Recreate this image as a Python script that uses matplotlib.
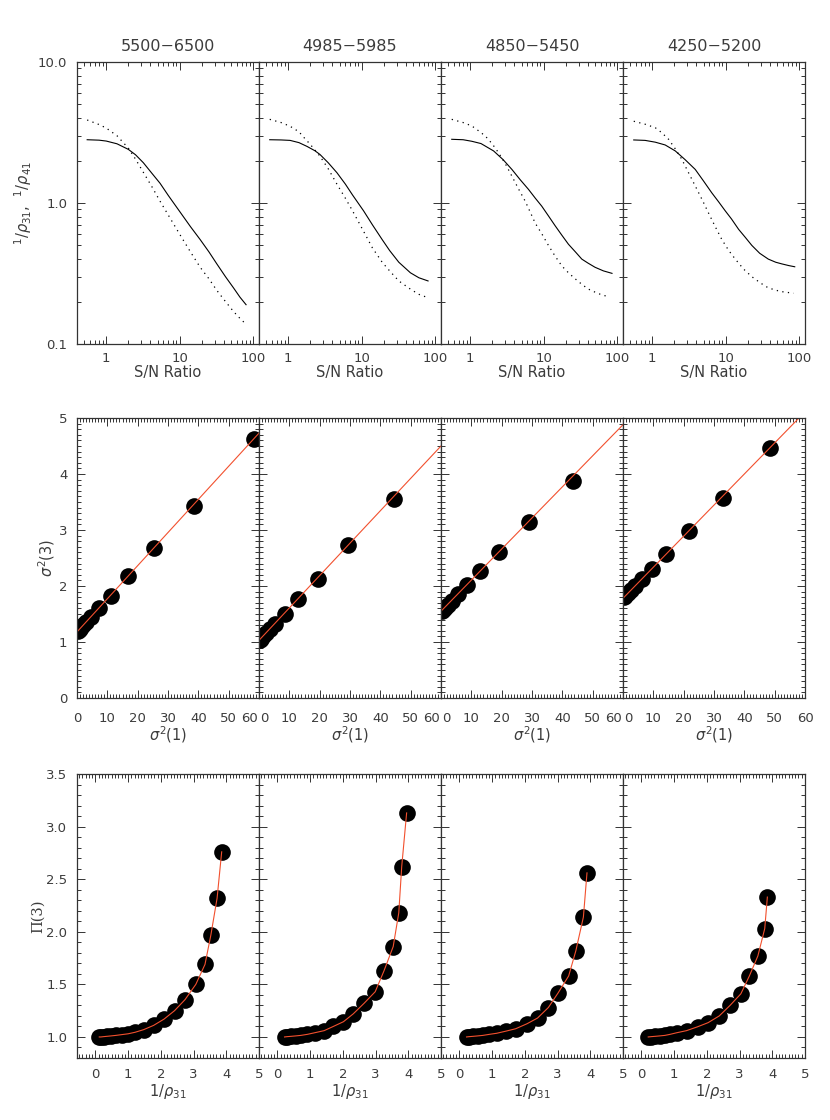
import matplotlib
matplotlib.use("Agg")
from matplotlib import pyplot as plt
from matplotlib.transforms import ScaledTranslation
from matplotlib.ticker import FixedLocator, MultipleLocator, FixedFormatter, NullFormatter, FormatStrFormatter

# top row: 1/rho31 (solid) and 1/rho41 (dotted) vs S/N
titles = ["5500\u22126500", "4985\u22125985", "4850\u22125450", "4250\u22125200"]
snr_solid = [
    [0.55, 0.8, 1.0, 1.4, 2.0, 2.5, 3.2, 4.2, 5.4, 7, 10, 14, 19, 25, 32, 42, 54, 66, 80],
    [0.56, 0.8, 1.06, 1.4, 1.8, 2.3, 2.7, 3.5, 4.6, 6, 7.5, 10.6, 14, 19, 24, 32, 46, 60, 80],
    [0.56, 0.8, 1.05, 1.4, 2.08, 2.8, 3.69, 4.8, 6.2, 7.7, 9.4, 11.6, 14.3, 17.7, 21.7, 27, 33, 40, 50, 65, 85],
    [0.56, 0.8, 1.1, 1.5, 2.06, 2.8, 3.85, 5, 6.47, 8, 9.85, 12, 15, 18.5, 22.7, 29, 38, 48, 58, 72, 87],
]
inv_rho31 = [
    [2.81, 2.79, 2.75, 2.63, 2.4, 2.2, 1.93, 1.62, 1.38, 1.13, 0.87, 0.68, 0.55, 0.45, 0.37, 0.3, 0.25, 0.215, 0.19],
    [2.81, 2.8, 2.78, 2.68, 2.52, 2.35, 2.21, 1.93, 1.64, 1.36, 1.14, 0.88, 0.7, 0.55, 0.46, 0.38, 0.32, 0.295, 0.28],
    [2.83, 2.81, 2.74, 2.64, 2.34, 2.03, 1.73, 1.46, 1.25, 1.08, 0.95, 0.81, 0.69, 0.59, 0.51, 0.45, 0.40, 0.375, 0.35, 0.33, 0.317],
    [2.8, 2.78, 2.7, 2.58, 2.34, 2.03, 1.73, 1.43, 1.18, 1.02, 0.88, 0.77, 0.65, 0.57, 0.50, 0.44, 0.40, 0.38, 0.37, 0.36, 0.353],
]
snr_dotted = [
    [0.55, 0.8, 1.0, 1.4, 2.0, 2.5, 3.2, 4.2, 5.4, 7, 10, 14, 19, 25, 32, 42, 54, 66, 80],
    [0.56, 0.8, 1.06, 1.4, 1.6, 2.0, 2.7, 3.5, 4.6, 6, 7.5, 10.6, 14, 19, 24, 32, 46, 60, 76],
    [0.56, 0.8, 1.05, 1.3, 1.6, 2.0, 2.43, 3.0, 3.69, 4.5, 5.6, 6.5, 7.66, 9.5, 11.6, 14.3, 17.7, 21.7, 26.8, 33, 40.6, 55, 76],
    [0.56, 0.8, 1.1, 1.35, 1.67, 2.05, 2.53, 3.1, 3.85, 4.8, 5.83, 7.2, 8.87, 11, 13.5, 17.5, 22.7, 30, 38, 55, 84],
]
inv_rho41 = [
    [3.88, 3.6, 3.4, 3.0, 2.45, 2.05, 1.65, 1.3, 1.03, 0.82, 0.6, 0.45, 0.35, 0.29, 0.24, 0.2, 0.17, 0.152, 0.138],
    [3.92, 3.72, 3.5, 3.2, 2.95, 2.6, 2.15, 1.75, 1.36, 1.08, 0.88, 0.63, 0.48, 0.38, 0.33, 0.28, 0.245, 0.225, 0.215],
    [3.92, 3.72, 3.52, 3.25, 2.99, 2.62, 2.27, 1.9, 1.55, 1.27, 1.03, 0.87, 0.72, 0.6, 0.50, 0.42, 0.357, 0.32, 0.29, 0.265, 0.245, 0.228, 0.216],
    [3.8, 3.62, 3.42, 3.15, 2.83, 2.43, 2.04, 1.65, 1.32, 1.05, 0.85, 0.68, 0.55, 0.46, 0.40, 0.34, 0.30, 0.27, 0.25, 0.236, 0.229],
]

# middle row: sigma^2(3) vs sigma^2(1)
sig1 = [
    [0.2, 0.5, 0.9, 1.4, 2.0, 2.9, 4.5, 7.2, 11.1, 16.8, 25.4, 38.5, 58.2],
    [0.2, 0.55, 1.3, 2.4, 3.5, 5.2, 8.5, 12.7, 19.3, 29.4, 44.5],
    [0.2, 0.55, 1.3, 2.2, 3.5, 5.7, 8.6, 12.9, 19.2, 29.0, 43.5],
    [0.3, 0.8, 1.5, 2.5, 3.9, 6.1, 9.4, 14.3, 21.7, 32.9, 48.3],
]
sig3 = [
    [1.19, 1.21, 1.23, 1.26, 1.30, 1.35, 1.45, 1.61, 1.83, 2.17, 2.68, 3.43, 4.62],
    [1.03, 1.05, 1.10, 1.16, 1.23, 1.33, 1.50, 1.76, 2.12, 2.74, 3.55],
    [1.55, 1.57, 1.61, 1.66, 1.74, 1.86, 2.02, 2.27, 2.60, 3.15, 3.88],
    [1.80, 1.83, 1.87, 1.92, 2.00, 2.12, 2.30, 2.57, 2.98, 3.58, 4.47],
]
fit_x = [0, 60]
fit_y = [[1.18, 4.73], [1.03, 4.50], [1.55, 4.88], [1.78, 5.11]]

# bottom row: Pi(3) vs 1/rho31
rho_x = [
    [0.12, 0.17, 0.25, 0.35, 0.48, 0.63, 0.8, 1.0, 1.22, 1.48, 1.78, 2.10, 2.42, 2.74, 3.07, 3.35, 3.53, 3.72, 3.86],
    [0.22, 0.3, 0.42, 0.56, 0.72, 0.92, 1.14, 1.43, 1.71, 2.02, 2.32, 2.65, 2.99, 3.26, 3.54, 3.71, 3.80, 3.95],
    [0.22, 0.3, 0.42, 0.56, 0.72, 0.92, 1.14, 1.42, 1.72, 2.07, 2.39, 2.72, 3.02, 3.34, 3.56, 3.79, 3.90],
    [0.21, 0.3, 0.42, 0.56, 0.72, 0.88, 1.08, 1.38, 1.72, 2.04, 2.38, 2.71, 3.04, 3.30, 3.56, 3.77, 3.85],
]
pi3 = [
    [1.0, 1.0, 1.003, 1.006, 1.01, 1.015, 1.022, 1.03, 1.045, 1.07, 1.11, 1.17, 1.25, 1.355, 1.50, 1.69, 1.97, 2.32, 2.76],
    [1.0, 1.003, 1.006, 1.01, 1.015, 1.025, 1.04, 1.06, 1.10, 1.145, 1.22, 1.32, 1.43, 1.63, 1.86, 2.18, 2.62, 3.13],
    [1.0, 1.003, 1.006, 1.01, 1.015, 1.025, 1.035, 1.055, 1.078, 1.126, 1.18, 1.28, 1.42, 1.58, 1.82, 2.14, 2.56],
    [1.0, 1.003, 1.006, 1.01, 1.015, 1.025, 1.04, 1.06, 1.097, 1.136, 1.20, 1.30, 1.41, 1.58, 1.77, 2.03, 2.33],
]

INK = "#333333"
TXT = "#3c3c3c"
RED = "#f2502e"
plt.rcParams["font.family"] = ["DejaVu Sans"]
plt.rcParams["mathtext.fontset"] = "dejavusans"

fig = plt.figure(figsize=(8.3, 11.2), dpi=100)
left0, pw = 77 / 830, 182 / 830
rows = [(1 - 344 / 1120, 282 / 1120), (1 - 698 / 1120, 280 / 1120), (1 - 1058 / 1120, 284 / 1120)]


def style(ax, first, pad=7):
    for s in ax.spines.values():
        s.set_color(INK)
        s.set_linewidth(0.9)
    ax.tick_params(which="both", direction="in", top=True, right=True,
                   color=INK, labelcolor=TXT, labelsize=9.5, width=0.7, pad=7)
    ax.tick_params(axis="x", pad=pad)
    ax.tick_params(which="major", length=6)
    ax.tick_params(which="minor", length=3)
    if not first:
        ax.tick_params(labelleft=False)


def nudge(label, dx_px):
    label.set_transform(label.get_transform() + ScaledTranslation(dx_px / 100, 0, fig.dpi_scale_trans))


for i in range(4):
    x0 = left0 + i * pw

    # top
    ax = fig.add_axes([x0, rows[0][0], pw, rows[0][1]])
    ax.plot(snr_solid[i], inv_rho31[i], color="black", lw=0.8)
    ax.plot(snr_dotted[i], inv_rho41[i], color="black", lw=0.9, ls=(0, (1, 3.5)))
    ax.set_xscale("log")
    ax.set_yscale("log")
    ax.set_xlim(0.4, 120)
    ax.set_ylim(0.1, 10)
    ax.xaxis.set_major_locator(FixedLocator([1, 10, 100]))
    ax.xaxis.set_major_formatter(FixedFormatter(["1", "10", "100"]))
    ax.xaxis.set_minor_formatter(NullFormatter())
    ax.yaxis.set_major_locator(FixedLocator([0.1, 1, 10]))
    ax.yaxis.set_major_formatter(FixedFormatter(["0.1", "1.0", "10.0"]))
    ax.yaxis.set_minor_formatter(NullFormatter())
    style(ax, i == 0, pad=6)
    ax.set_title(titles[i], fontsize=11.5, color=TXT, pad=8)
    ax.set_xlabel("S/N Ratio", fontsize=10.5, color=TXT)
    ax.xaxis.set_label_coords(0.5, -0.076)
    if i == 0:
        ax.set_ylabel(r"$^1/\rho_{31}$,  $^1/\rho_{41}$", fontsize=10.5, color=TXT)
        ax.yaxis.set_label_coords(-0.235, 0.5)

    # middle
    ax = fig.add_axes([x0, rows[1][0], pw, rows[1][1]])
    ax.plot(sig1[i], sig3[i], "o", color="black", ms=12, mew=0)
    ax.plot(fit_x, fit_y[i], color=RED, lw=0.8)
    ax.set_xlim(0, 60)
    ax.set_ylim(0, 5)
    ax.xaxis.set_major_locator(FixedLocator([0, 10, 20, 30, 40, 50, 60]))
    ax.xaxis.set_minor_locator(MultipleLocator(1))
    ax.yaxis.set_major_locator(MultipleLocator(1))
    ax.yaxis.set_minor_locator(MultipleLocator(0.1))
    style(ax, i == 0, pad=10)
    ticks = ax.xaxis.get_major_ticks()
    if i < 3:
        ticks[-1].label1.set_ha("right")
        nudge(ticks[-1].label1, -1)
    if i > 0:
        ticks[0].label1.set_ha("left")
        nudge(ticks[0].label1, 1)
    ax.set_xlabel(r"$\sigma^2(1)$", fontsize=10.5, color=TXT)
    ax.xaxis.set_label_coords(0.5, -0.095)
    if i == 0:
        ax.set_ylabel(r"$\sigma^2(3)$", fontsize=10.5, color=TXT)
        ax.yaxis.set_label_coords(-0.108, 0.5)

    # bottom
    ax = fig.add_axes([x0, rows[2][0], pw, rows[2][1]])
    ax.plot(rho_x[i], pi3[i], "o", color="black", ms=12, mew=0)
    ax.plot(rho_x[i], pi3[i], color=RED, lw=0.8)
    ax.set_xlim(-0.56, 5)
    ax.set_ylim(0.8, 3.5)
    ax.xaxis.set_major_locator(MultipleLocator(1))
    ax.xaxis.set_minor_locator(MultipleLocator(0.1))
    ax.yaxis.set_major_locator(MultipleLocator(0.5))
    ax.yaxis.set_minor_locator(MultipleLocator(0.1))
    ax.yaxis.set_major_formatter(FormatStrFormatter("%.1f"))
    style(ax, i == 0)
    ax.set_xlabel(r"$1/\rho_{31}$", fontsize=10.5, color=TXT)
    ax.xaxis.set_label_coords(0.5, -0.085)
    if i == 0:
        ax.set_ylabel("\u03a0(3)", fontsize=10.5, color=TXT, family="DejaVu Serif")
        ax.yaxis.set_label_coords(-0.176, 0.5)

fig.savefig("out.png", dpi=100)
